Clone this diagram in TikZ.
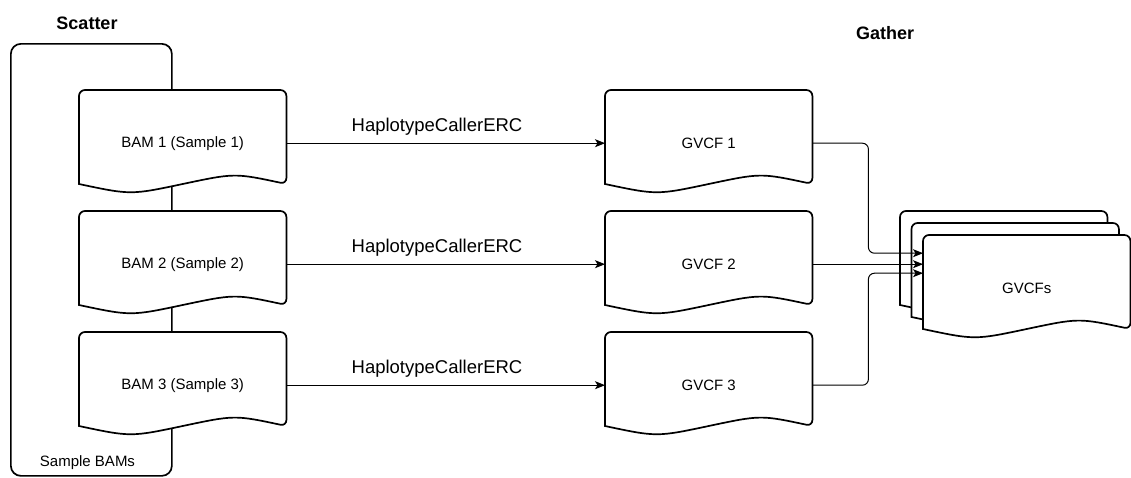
\documentclass[tikz,border=0pt]{standalone}
\usepackage{fontspec}
\setmainfont{Liberation Sans}
\usetikzlibrary{arrows.meta,calc,backgrounds}

\tikzset{
  boxline/.style={line width=1.7pt, fill=white, draw=black},
  docnode/.style={minimum width=207pt, minimum height=106pt, inner sep=0pt, anchor=north west, font=\fontsize{15}{17}\selectfont},
  conn/.style={line width=1pt, -{Stealth[length=10pt,width=8pt,inset=2.5pt]}},
  lbl/.style={font=\fontsize{18.5}{22}\selectfont},
  ttl/.style={font=\bfseries\fontsize{18}{22}\selectfont},
  small/.style={font=\fontsize{15}{17}\selectfont},
}

\newcommand\docshape[1]{%
  \draw[boxline] ($(#1.north west)+(0,94)$)
    {[rounded corners=6pt] -- (#1.north west) -- (#1.north east) -- ($(#1.north east)+(0,94)$)}
    .. controls ($(#1.north east)+(-51.75,83)$) .. ($(#1.north)+(0,94)$)
    .. controls ($(#1.north west)+(51.75,105)$) .. ($(#1.north west)+(0,94)$) -- cycle;}

\begin{document}
\begin{tikzpicture}[x=1pt,y=-1pt]
\useasboundingbox (0,0) rectangle (1131,477);

% nodes
\node[docnode] (b1) at (79,90) {BAM 1 (Sample 1)};
\node[docnode] (b2) at (79,211) {BAM 2 (Sample 2)};
\node[docnode] (b3) at (79,332) {BAM 3 (Sample 3)};
\node[docnode] (g1) at (605,90) {GVCF 1};
\node[docnode] (g2) at (605,211) {GVCF 2};
\node[docnode] (g3) at (605,332) {GVCF 3};
\node[docnode] (back) at (900,211) {};
\node[docnode] (mid) at (911.5,223) {};
\node[docnode] (front) at (923,235) {GVCFs};

\begin{pgfonlayer}{background}
  \node[draw, line width=1.7pt, rounded corners=10pt, minimum width=161pt, minimum height=432pt,
        inner sep=0pt, anchor=north west] (bams) at (10,43) {};
  \docshape{b1}\docshape{b2}\docshape{b3}
  \docshape{g1}\docshape{g2}\docshape{g3}
  \docshape{back}\docshape{mid}\docshape{front}
\end{pgfonlayer}

\node[ttl] (scatter) at (87,23) {Scatter};
\node[ttl] (gather) at (885,33) {Gather};
\node[small] (sbams) at (87.5,463) {Sample BAMs};

\node[lbl] (h1) at (437,127) {HaplotypeCallerERC};
\node[lbl] (h2) at (437,248) {HaplotypeCallerERC};
\node[lbl] (h3) at (437,369) {HaplotypeCallerERC};

\draw[conn] (b1.east) -- (g1.west);
\draw[conn] (b2.east) -- (g2.west);
\draw[conn] (b3.east) -- (g3.west);

\draw[conn, rounded corners=6pt] (g1.east) -- ++(56,0) |- ($(front.west)+(0,-35)$);
\draw[conn] (g2.east) -- (g2.east -| front.west);
\draw[conn, rounded corners=6pt] (g3.east) -- ++(56,0) |- ($(front.west)+(0,-15)$);
\end{tikzpicture}
\end{document}
